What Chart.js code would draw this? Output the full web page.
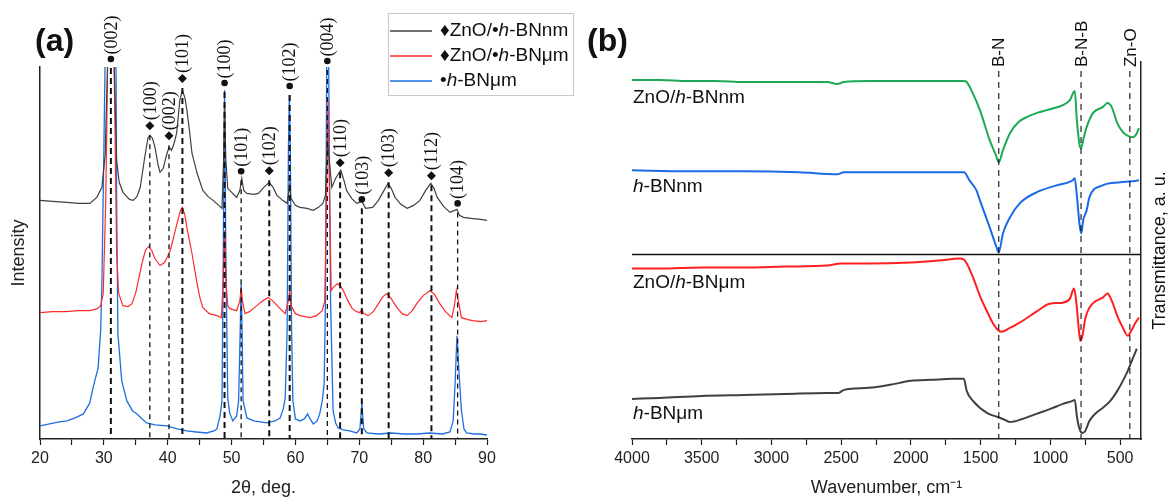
<!DOCTYPE html>
<html>
<head>
<meta charset="utf-8">
<title>ZnO/h-BN: XRD and FTIR</title>
<script src="https://cdn.jsdelivr.net/npm/chart.js@4.4.1/dist/chart.umd.min.js"></script>
<style>
  body { margin: 0; background: #fff; }
  #figura { position: relative; width: 1169px; height: 502px; }
  #graficoXrd { position: absolute; left: 0; top: 0; }
  #graficoFtir { position: absolute; left: 580px; top: 0; }
</style>
</head>
<body>
<div id="figura">
  <canvas id="graficoXrd" width="580" height="502"></canvas>
  <canvas id="graficoFtir" width="589" height="502"></canvas>
</div>
<script>
// ---- (a) XRD, 2theta in degrees, intensity in arbitrary units (curves already offset)
const xrdNames = ['♦ZnO/•*h*-BNnm', '♦ZnO/•*h*-BNμm', '•*h*-BNμm'];

const nmAngle = [20, 22, 24.2, 26, 27.8, 28.9, 29.7, 30.2, 30.6, 31.1, 31.6, 32.0, 32.4, 33.0, 34.0, 34.6, 35.2, 35.7, 36.4, 36.9,
  37.2, 37.6, 38.0, 38.5, 38.8, 39.3, 39.8, 40.2, 40.6, 41.0, 41.4, 41.9, 42.3, 42.7, 43.0, 43.4, 43.8, 44.6, 45.5, 46.3,
  47.1, 48.0, 48.5, 48.75, 48.9, 49.1, 49.4, 49.7, 50.8, 51.3, 51.6, 51.9, 52.4, 53.5, 54.2, 55.2, 55.9, 56.5, 57.1, 58.0,
  58.7, 59.1, 59.3, 60.0, 60.7, 61.8, 62.8, 63.6, 64.3, 64.7, 65.0, 65.3, 65.7, 66.3, 67.1, 67.6, 68.0, 68.8, 69.6, 70.4,
  71.0, 72.1, 73.0, 73.7, 74.5, 75.0, 75.6, 76.5, 77.5, 78.5, 79.5, 80.4, 81.2, 81.7, 82.2, 83.2, 84.2, 85.3, 85.7, 86.3,
  87.5, 89.0, 90];
const nmIntensity = [238, 237, 236, 235, 235, 241, 251, 283, 378, 538, 378, 278, 256, 246, 239, 238, 242, 251, 281, 300,
  303, 300, 291, 273, 266, 270, 283, 291, 288, 295, 305, 338, 348, 340, 328, 308, 285, 265, 248, 242,
  238, 233, 230, 278, 333, 278, 250, 248, 241, 248, 260, 248, 245, 244, 245, 252, 256, 251, 243, 238,
  235, 253, 240, 233, 231, 230, 228, 231, 235, 243, 298, 278, 251, 260, 268, 258, 248, 240, 235, 237,
  230, 231, 238, 246, 255, 250, 241, 234, 230, 233, 238, 248, 255, 250, 241, 232, 226, 229, 223, 221,
  220, 219, 218];

const mumAngle = [20, 22, 24, 26, 27.8, 29.0, 29.5, 29.9, 30.3, 30.6, 31.1, 31.6, 32.0, 32.3, 32.7, 33.0, 33.8, 34.4, 35.0, 35.4,
  36.0, 36.5, 37.0, 37.5, 38.0, 38.8, 39.5, 39.9, 40.4, 41.0, 41.5, 42.0, 42.3, 42.7, 43.0, 43.4, 43.8, 44.2, 44.6, 45.0,
  45.5, 46.5, 47.7, 48.4, 48.7, 48.9, 49.1, 49.4, 49.7, 50.8, 51.3, 51.5, 51.7, 52.1, 52.8, 53.4, 54.5, 55.4, 55.8, 56.4,
  57.0, 57.6, 58.4, 58.9, 59.1, 59.3, 60.0, 60.7, 61.5, 62.3, 63.3, 64.2, 64.6, 64.9, 65.1, 65.3, 65.6, 65.9, 66.6, 67.1,
  67.5, 68.2, 68.9, 69.6, 70.1, 70.4, 70.7, 71.4, 72.2, 73.0, 73.7, 74.3, 75.0, 75.9, 76.7, 77.5, 78.3, 79.0, 80.0, 81.1,
  81.8, 82.6, 83.5, 84.5, 84.9, 85.2, 85.5, 86.0, 87.0, 87.8, 89.0, 90];
const mumIntensity = [126, 127, 127, 128, 128, 130, 133, 145, 238, 378, 588, 378, 188, 146, 138, 133, 132, 135, 146, 158,
  176, 188, 192, 188, 180, 173, 176, 181, 188, 203, 216, 228, 231, 223, 211, 198, 185, 170, 155, 142,
  131, 125, 123, 121, 158, 208, 158, 133, 130, 128, 138, 151, 138, 125, 127, 130, 136, 140, 141, 138,
  134, 130, 125, 138, 148, 133, 125, 123, 122, 121, 123, 128, 138, 258, 338, 258, 148, 151, 155, 152,
  148, 138, 130, 127, 126, 130, 125, 123, 127, 135, 142, 145, 140, 131, 125, 123, 128, 135, 143, 148,
  144, 135, 127, 121, 133, 148, 138, 121, 119, 118, 117, 118];

const bnAngle = [20, 21.5, 23.0, 24.2, 25.5, 26.8, 27.8, 28.3, 29.1, 29.5, 29.7, 30.0, 30.2, 30.6, 31.1, 31.6, 31.9, 32.0, 32.2, 32.8,
  33.6, 34.5, 35.2, 36.0, 36.7, 38.0, 39.9, 41.5, 43.0, 44.5, 46.1, 47.2, 47.7, 48.2, 48.5, 48.7, 48.9, 49.1, 49.4, 49.7,
  50.2, 50.8, 51.1, 51.35, 51.5, 51.65, 51.8, 52.4, 53.5, 55.5, 56.8, 57.6, 58.1, 58.4, 58.7, 58.9, 59.05, 59.2, 59.4, 59.6,
  60.0, 60.7, 61.4, 61.9, 62.3, 62.8, 63.4, 63.8, 64.2, 64.5, 64.7, 64.9, 65.05, 65.2, 65.5, 65.9, 66.3, 66.7, 67.5, 68.5,
  69.6, 70.1, 70.4, 70.7, 71.2, 73, 75, 77, 79, 81, 83, 84.2, 84.7, 85.0, 85.3, 85.6, 86.0, 86.4, 86.8, 88,
  89, 90];
const bnIntensity = [13, 15, 17, 18, 21, 25, 36, 51, 71, 108, 158, 288, 378, 538, 738, 538, 378, 238, 105, 58,
  38, 28, 25, 20, 16, 14, 13, 10, 8, 7, 6, 8, 10, 23, 38, 188, 348, 188, 41, 26,
  18, 23, 38, 108, 155, 108, 38, 21, 18, 16, 18, 21, 30, 41, 108, 288, 343, 288, 108, 38,
  20, 18, 20, 25, 20, 15, 18, 25, 38, 55, 138, 378, 738, 378, 138, 28, 16, 11, 9, 8,
  6, 10, 35, 10, 6, 5, 6, 5, 5, 6, 5, 7, 18, 55, 103, 68, 28, 10, 6, 5,
  5, 4];

// reflections marked above the pattern
const peakAngle = [31.1, 37.2, 40.2, 42.3, 48.9, 51.5, 55.9, 59.1, 65.0, 67.0, 70.4, 74.6, 81.3, 85.4];
const peakIndex = ['002', '100', '002', '101', '100', '101', '102', '102', '004', '110', '103', '103', '112', '104'];
const peakPhase = ['BN', 'ZnO', 'ZnO', 'ZnO', 'BN', 'BN', 'ZnO', 'BN', 'BN', 'ZnO', 'BN', 'ZnO', 'ZnO', 'BN'];
const peakLabelLevel = [375, 308, 298, 355, 351, 263, 263, 348, 373, 271, 235, 261, 258, 231];

// ---- (b) FTIR, wavenumber in cm-1, transmittance in arbitrary units (curves already offset)
const ftirNames = ['ZnO/*h*-BNnm', '*h*-BNnm', 'ZnO/*h*-BNμm', '*h*-BNμm'];
const ftirLabelLevel = [340, 252, 156, 25];

const znoNmWave = [4000, 3800, 3600, 3400, 3200, 3000, 2800, 2600, 2530, 2480, 2300, 2100, 1900, 1700, 1620, 1600, 1560, 1505, 1435, 1390,
  1370, 1340, 1290, 1230, 1170, 1100, 1025, 910, 860, 825, 810, 790, 780, 760, 740, 695, 625, 590, 560, 520,
  480, 440, 410, 380, 365];
const znoNmTrans = [358, 358, 357, 357, 356, 356, 356, 356, 354, 356, 357, 357, 357, 357, 357, 356, 346, 328, 298, 283,
  276, 288, 305, 316, 321, 325, 328, 333, 338, 347, 318, 293, 290, 301, 311, 325, 331, 335, 331, 315,
  306, 302, 301, 305, 310];

const bnNmWave = [4000, 3600, 3200, 2800, 2530, 2480, 2000, 1620, 1580, 1530, 1505, 1435, 1390, 1370, 1340, 1290, 1220, 1100, 955, 840,
  825, 810, 790, 778, 765, 740, 720, 625, 500, 420, 365];
const bnNmTrans = [268, 267, 267, 266, 264, 266, 266, 266, 258, 248, 238, 211, 193, 186, 205, 221, 235, 246, 253, 258,
  260, 243, 213, 205, 218, 228, 241, 253, 256, 257, 258];

const znoMumWave = [4000, 3800, 3500, 3200, 2900, 2600, 2500, 2300, 2000, 1800, 1650, 1620, 1560, 1500, 1450, 1410, 1370, 1350, 1300, 1220,
  1100, 1005, 910, 860, 830, 815, 795, 785, 770, 750, 720, 680, 625, 590, 560, 515, 480, 445, 420, 390,
  365];
const znoMumTrans = [170, 170, 171, 171, 172, 173, 175, 175, 176, 178, 180, 179, 163, 141, 126, 115, 108, 107, 110, 116,
  127, 135, 136, 140, 150, 138, 108, 98, 103, 120, 131, 137, 141, 145, 138, 121, 111, 103, 108, 116,
  121];

const bnMumWave = [4000, 3800, 3500, 3200, 2900, 2600, 2520, 2480, 2300, 2150, 2000, 1850, 1700, 1620, 1600, 1555, 1455, 1380, 1340, 1290,
  1200, 1100, 1000, 910, 840, 825, 810, 800, 785, 770, 750, 720, 680, 625, 570, 520, 480, 445, 410, 380];
const bnMumTrans = [40, 41, 43, 44, 45, 46, 46, 49, 51, 54, 58, 59, 60, 60, 48, 38, 26, 22, 20, 17,
  20, 25, 30, 35, 38, 39, 23, 15, 8, 6, 8, 18, 25, 31, 38, 48, 58, 68, 80, 90];

const bandWave = [1370, 780, 430];
const bandNames = ['B-N', 'B-N-B', 'Zn-O'];
const bandLabelLevel = 371;
const separatorLevel = 184;

const fonte = '"Liberation Sans", Arial, sans-serif';
Chart.defaults.font.family = fonte;
Chart.defaults.color = '#222';

function pontos(xs, ys) {
  return xs.map((x, i) => ({ x: x, y: ys[i] }));
}

function semMarcas(nome) {
  return nome.replace(/\*/g, '');
}

// text with *italic* parts
function textoMisto(ctx, texto, x, y, tamanho) {
  let cursor = x;
  texto.split('*').forEach((parte, i) => {
    ctx.font = (i % 2 ? 'italic ' : '') + tamanho + 'px ' + fonte;
    ctx.fillText(parte, cursor, y);
    cursor += ctx.measureText(parte).width;
  });
}

const anotacoesXrd = {
  id: 'anotacoesXrd',
  afterDatasetsDraw(chart) {
    const { ctx, scales: { x, y } } = chart;
    ctx.save();
    ctx.strokeStyle = '#111';
    ctx.fillStyle = '#111';
    peakAngle.forEach((angulo, i) => {
      const px = x.getPixelForValue(angulo);
      const py = y.getPixelForValue(peakLabelLevel[i]);
      const forte = [0, 3, 4, 6, 7, 9, 10, 11, 12].includes(i);
      ctx.lineWidth = forte ? 2 : 1.3;
      ctx.setLineDash(forte ? [6, 4] : [5, 4]);
      ctx.beginPath();
      ctx.moveTo(px, py + 5);
      ctx.lineTo(px, y.bottom);
      ctx.stroke();
      ctx.setLineDash([]);

      ctx.save();
      ctx.translate(px, py);
      ctx.rotate(-Math.PI / 2);
      // phase marker: dot for h-BN, diamond for ZnO
      ctx.beginPath();
      if (peakPhase[i] === 'ZnO') {
        ctx.moveTo(0, 0);
        ctx.lineTo(4.5, -4.5);
        ctx.lineTo(9, 0);
        ctx.lineTo(4.5, 4.5);
        ctx.closePath();
      } else {
        ctx.arc(4, 0, 3.3, 0, Math.PI * 2);
      }
      ctx.fill();
      ctx.font = '18px "Liberation Serif", "Times New Roman", serif';
      ctx.textAlign = 'left';
      ctx.textBaseline = 'middle';
      ctx.fillText('(' + peakIndex[i] + ')', peakPhase[i] === 'ZnO' ? 10 : 8.5, 1);
      ctx.restore();
    });
    ctx.restore();
  },
  afterDraw(chart) {
    const { ctx } = chart;
    ctx.save();
    ctx.fillStyle = '#111';
    ctx.textBaseline = 'middle';
    ctx.font = 'bold 32px ' + fonte;
    ctx.fillText('(a)', 35, 42);

    // legend box
    ctx.strokeStyle = '#c8c8c8';
    ctx.lineWidth = 1;
    ctx.strokeRect(388.5, 13.5, 185, 82);
    chart.data.datasets.forEach((ds, i) => {
      const yy = 31 + i * 25;
      ctx.strokeStyle = ds.borderColor;
      ctx.lineWidth = 1.5;
      ctx.beginPath();
      ctx.moveTo(390, yy);
      ctx.lineTo(432, yy);
      ctx.stroke();
      ctx.fillStyle = '#111';
      textoMisto(ctx, xrdNames[i], 440, yy, 19);
    });
    ctx.restore();
  }
};

const anotacoesFtir = {
  id: 'anotacoesFtir',
  afterDatasetsDraw(chart) {
    const { ctx, chartArea, scales: { x, y } } = chart;
    ctx.save();
    ctx.strokeStyle = '#111';
    ctx.fillStyle = '#111';

    const ySep = y.getPixelForValue(separatorLevel);
    ctx.lineWidth = 1.5;
    ctx.beginPath();
    ctx.moveTo(chartArea.left, ySep);
    ctx.lineTo(chartArea.right, ySep);
    ctx.stroke();

    bandWave.forEach((onda, i) => {
      const px = x.getPixelForValue(onda);
      const py = y.getPixelForValue(bandLabelLevel);
      ctx.lineWidth = 1.1;
      ctx.setLineDash([6, 5]);
      ctx.beginPath();
      ctx.moveTo(px, py + 4);
      ctx.lineTo(px, chartArea.bottom);
      ctx.stroke();
      ctx.setLineDash([]);

      ctx.save();
      ctx.translate(px, py);
      ctx.rotate(-Math.PI / 2);
      ctx.font = '17px ' + fonte;
      ctx.textAlign = 'left';
      ctx.textBaseline = 'middle';
      ctx.fillText(bandNames[i], 0, 1);
      ctx.restore();
    });

    ctx.textBaseline = 'middle';
    ftirNames.forEach((nome, i) => {
      textoMisto(ctx, nome, chartArea.left + 1, y.getPixelForValue(ftirLabelLevel[i]), 19);
    });
    ctx.restore();
  },
  afterDraw(chart) {
    const { ctx, chartArea } = chart;
    ctx.save();
    ctx.fillStyle = '#111';
    ctx.textBaseline = 'middle';
    ctx.font = 'bold 32px ' + fonte;
    ctx.fillText('(b)', 7, 42);

    ctx.translate(580, (chartArea.top + chartArea.bottom) / 2);
    ctx.rotate(-Math.PI / 2);
    ctx.textAlign = 'center';
    ctx.font = '18px ' + fonte;
    ctx.fillText('Transmittance, a. u.', 0, 0);
    ctx.restore();
  }
};

function eixoX(min, max, passo, rotulo, invertido) {
  return {
    type: 'linear',
    min: min,
    max: max,
    reverse: invertido,
    ticks: {
      stepSize: passo,
      autoSkip: false,
      includeBounds: false,
      maxRotation: 0,
      padding: 4,
      color: '#222',
      font: { size: 16 },
      callback: v => (v % (passo * 2) === 0 ? v : '')
    },
    grid: { drawOnChartArea: false, tickLength: 6, tickColor: '#222', tickWidth: 1.2 },
    border: { color: '#222', width: 1.5 },
    title: { display: true, text: rotulo, color: '#222', font: { size: 18 }, padding: { top: 5, bottom: 1.2 } }
  };
}

new Chart(document.getElementById('graficoXrd'), {
  type: 'line',
  data: {
    datasets: [
      { label: semMarcas(xrdNames[0]), data: pontos(nmAngle, nmIntensity), borderColor: '#404040', borderWidth: 1.2 },
      { label: semMarcas(xrdNames[1]), data: pontos(mumAngle, mumIntensity), borderColor: '#ff2a2a', borderWidth: 1.2 },
      { label: semMarcas(xrdNames[2]), data: pontos(bnAngle, bnIntensity), borderColor: '#1e6fe0', borderWidth: 1.3 }
    ]
  },
  options: {
    responsive: false,
    animation: false,
    layout: { padding: { left: 4, right: 93, top: 67, bottom: 2 } },
    elements: { point: { radius: 0 }, line: { tension: 0 } },
    plugins: { legend: { display: false }, tooltip: { enabled: false } },
    scales: {
      x: eixoX(20, 90, 5, '2θ, deg.', false),
      y: {
        min: 0,
        max: 371,
        ticks: { display: false },
        grid: { display: false, drawTicks: false },
        border: { color: '#222', width: 1.5 },
        title: { display: true, text: 'Intensity', color: '#222', font: { size: 18 }, padding: { top: 4.2, bottom: 10.2 } }
      }
    }
  },
  plugins: [anotacoesXrd]
});

new Chart(document.getElementById('graficoFtir'), {
  type: 'line',
  data: {
    datasets: [
      { label: semMarcas(ftirNames[0]), data: pontos(znoNmWave, znoNmTrans), borderColor: '#1daa55', borderWidth: 2 },
      { label: semMarcas(ftirNames[1]), data: pontos(bnNmWave, bnNmTrans), borderColor: '#1a6be3', borderWidth: 2 },
      { label: semMarcas(ftirNames[2]), data: pontos(znoMumWave, znoMumTrans), borderColor: '#ff1f1f', borderWidth: 2 },
      { label: semMarcas(ftirNames[3]), data: pontos(bnMumWave, bnMumTrans), borderColor: '#404040', borderWidth: 2 }
    ]
  },
  options: {
    responsive: false,
    animation: false,
    layout: { padding: { left: 52, right: 28, top: 62, bottom: 2 } },
    elements: { point: { radius: 0 }, line: { cubicInterpolationMode: 'monotone' } },
    plugins: { legend: { display: false }, tooltip: { enabled: false } },
    scales: {
      x: eixoX(350, 4000, 250, 'Wavenumber, cm⁻¹', true),
      y: {
        position: 'right',
        min: 0,
        max: 376,
        ticks: { display: false },
        grid: { display: false, drawTicks: false },
        border: { color: '#222', width: 1.5 }
      }
    }
  },
  plugins: [anotacoesFtir]
});
</script>
</body>
</html>
